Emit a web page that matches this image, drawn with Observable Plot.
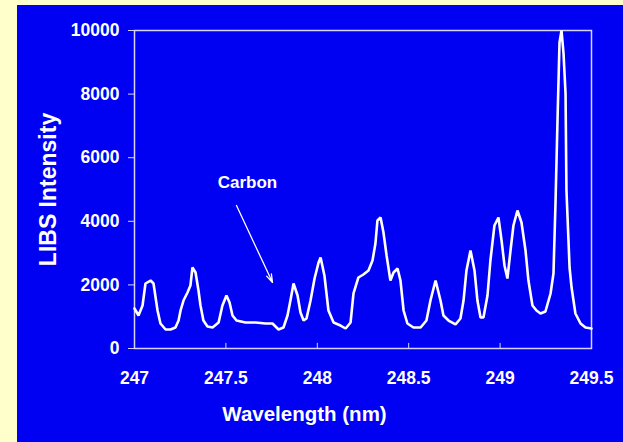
<!DOCTYPE html>
<html>
<head>
<meta charset="utf-8">
<script src="https://cdn.jsdelivr.net/npm/d3@7"></script>
<script src="https://cdn.jsdelivr.net/npm/@observablehq/plot@0.6"></script>
<style>
  html, body { margin: 0; padding: 0; background: #ffffcc; width: 623px; height: 442px; overflow: hidden; }
  #panel { position: absolute; left: 17px; top: 5px; width: 606px; height: 437px; background: #0000f2; }
</style>
</head>
<body>
<div id="panel"></div>
<script>
// Wavelength (nm) and LIBS intensity
const wavelength = [247.000,247.022,247.044,247.060,247.088,247.104,247.126,247.142,247.170,247.197,
  247.224,247.241,247.252,247.268,247.290,247.306,247.317,247.334,247.350,247.361,
  247.377,247.399,247.427,247.460,247.481,247.503,247.520,247.536,247.558,247.607,
  247.662,247.717,247.755,247.788,247.815,247.837,247.853,247.870,247.892,247.908,
  247.925,247.941,247.963,247.985,248.007,248.018,248.039,248.061,248.089,248.127,
  248.155,248.182,248.198,248.225,248.252,248.280,248.302,248.318,248.329,248.346,
  248.362,248.379,248.400,248.417,248.439,248.455,248.472,248.493,248.526,248.565,
  248.597,248.619,248.647,248.674,248.690,248.718,248.756,248.783,248.800,248.816,
  248.838,248.860,248.876,248.893,248.909,248.931,248.947,248.969,248.991,249.008,
  249.024,249.040,249.057,249.073,249.095,249.117,249.139,249.155,249.177,249.199,
  249.221,249.248,249.276,249.292,249.303,249.314,249.325,249.336,249.347,249.358,
  249.363,249.380,249.391,249.412,249.440,249.467,249.500];
const intensity = [1258,1038,1352,2044,2138,2044,1195,786,597,597,
  660,880,1195,1509,1761,1981,2547,2390,1824,1352,
  880,692,660,818,1352,1667,1447,1038,880,818,
  818,786,786,597,660,1038,1509,2044,1667,1132,
  880,943,1509,2201,2704,2862,2296,1195,818,723,
  629,818,1730,2233,2327,2453,2767,3302,4025,4119,
  3648,2925,2138,2390,2516,2138,1195,786,660,660,
  880,1509,2138,1509,1038,880,755,943,1509,2453,
  3082,2453,1509,975,975,1667,2767,3868,4119,3396,
  2610,2201,3082,3868,4340,3962,3082,2138,1352,1195,
  1101,1164,1730,2358,4560,7170,9623,10000,9277,8019,
  4969,2547,1918,1101,786,660,629];

const xTicks = [247, 247.5, 248, 248.5, 249, 249.5];
const yTicks = [0, 2000, 4000, 6000, 8000, 10000];

// Annotation
const noteLabel = ["Carbon"];
const noteTextX = [247.618];
const noteTextY = [5220];
const arrowFrom = [[247.558, 4497]];
const arrowTo = [[247.755, 2075]];

const data = wavelength.map((w, i) => ({w, v: intensity[i]}));
const notes = noteLabel.map((t, i) => ({t, x: noteTextX[i], y: noteTextY[i]}));
const arrows = arrowFrom.map((a, i) => ({x1: a[0], y1: a[1], x2: arrowTo[i][0], y2: arrowTo[i][1]}));

const font = "'Liberation Sans', Arial, Helvetica, sans-serif";
const frameColor = "#d4d4ff";

const plot = Plot.plot({
  width: 606,
  height: 437,
  marginLeft: 117,
  marginTop: 25,
  marginRight: 32,
  marginBottom: 94,
  style: {background: "transparent", color: "white", fontFamily: font, fontWeight: "bold", overflow: "visible"},
  x: {domain: [247, 249.5]},
  y: {domain: [0, 10000]},
  marks: [
    Plot.frame({stroke: frameColor, strokeWidth: 1.5, strokeOpacity: 1}),
    Plot.ruleX(xTicks, {y1: 0, y2: 160, stroke: frameColor, strokeWidth: 1}),
    Plot.axisX(xTicks, {tickSize: 0, tickPadding: 23, fontSize: 17.5, label: null, tickFormat: d => String(d), fill: "white"}),
    Plot.axisY(yTicks, {tickSize: 6, tickPadding: 9, fontSize: 17.5, label: null, tickFormat: d => String(d), stroke: frameColor, fill: "white"}),
    Plot.text(["Wavelength (nm)"], {x: 247.93, frameAnchor: "bottom", dy: 66, fontSize: 20.5, fill: "white", fontWeight: "bold", lineAnchor: "middle"}),
    Plot.text(["LIBS Intensity"], {frameAnchor: "left", dx: -86, rotate: -90, fontSize: 23, fill: "white", fontWeight: "bold", textAnchor: "middle", lineAnchor: "middle"}),
    Plot.line(data, {x: "w", y: "v", stroke: "white", strokeWidth: 2.6, strokeLinejoin: "miter"}),
    Plot.text(notes, {x: "x", y: "y", text: "t", fontSize: 17, fill: "white", fontWeight: "bold"}),
    Plot.arrow(arrows, {x1: "x1", y1: "y1", x2: "x2", y2: "y2", stroke: "white", strokeWidth: 1.3, headLength: 10, headAngle: 35})
  ]
});
document.getElementById("panel").appendChild(plot);
</script>
</body>
</html>
